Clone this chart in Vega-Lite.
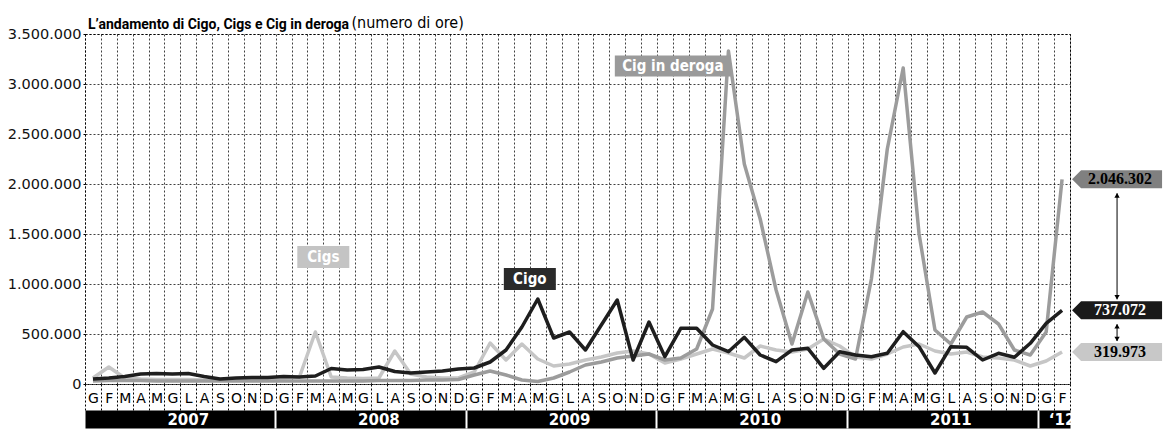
{
  "$schema": "https://vega.github.io/schema/vega-lite/v6.json",
  "width": 985,
  "height": 350,
  "autosize": {"type": "none"},
  "padding": {"left": 85, "top": 34, "right": 94, "bottom": 45},
  "background": "#ffffff",
  "title": {"text": "L’andamento di Cigo, Cigs e Cig in deroga", "anchor": "start", "frame": "group", "font": "Roboto", "fontSize": 14, "fontWeight": "bold", "color": "#000000", "baseline": "alphabetic", "offset": 8, "dx": 3, "dy": 37},
  "datasets": {
    "months": [
      {"m": "2007-01", "cigo": 50000, "cigs": 60000, "deroga": 30000},
      {"m": "2007-02", "cigo": 60000, "cigs": 170000, "deroga": 35000},
      {"m": "2007-03", "cigo": 75000, "cigs": 60000, "deroga": 35000},
      {"m": "2007-04", "cigo": 100000, "cigs": 50000, "deroga": 35000},
      {"m": "2007-05", "cigo": 105000, "cigs": 45000, "deroga": 30000},
      {"m": "2007-06", "cigo": 100000, "cigs": 45000, "deroga": 30000},
      {"m": "2007-07", "cigo": 105000, "cigs": 45000, "deroga": 30000},
      {"m": "2007-08", "cigo": 75000, "cigs": 40000, "deroga": 30000},
      {"m": "2007-09", "cigo": 50000, "cigs": 40000, "deroga": 30000},
      {"m": "2007-10", "cigo": 60000, "cigs": 45000, "deroga": 30000},
      {"m": "2007-11", "cigo": 65000, "cigs": 45000, "deroga": 30000},
      {"m": "2007-12", "cigo": 65000, "cigs": 50000, "deroga": 30000},
      {"m": "2008-01", "cigo": 75000, "cigs": 60000, "deroga": 30000},
      {"m": "2008-02", "cigo": 70000, "cigs": 70000, "deroga": 30000},
      {"m": "2008-03", "cigo": 80000, "cigs": 520000, "deroga": 30000},
      {"m": "2008-04", "cigo": 155000, "cigs": 70000, "deroga": 30000},
      {"m": "2008-05", "cigo": 140000, "cigs": 60000, "deroga": 30000},
      {"m": "2008-06", "cigo": 145000, "cigs": 55000, "deroga": 30000},
      {"m": "2008-07", "cigo": 170000, "cigs": 60000, "deroga": 35000},
      {"m": "2008-08", "cigo": 125000, "cigs": 330000, "deroga": 35000},
      {"m": "2008-09", "cigo": 110000, "cigs": 100000, "deroga": 35000},
      {"m": "2008-10", "cigo": 120000, "cigs": 70000, "deroga": 40000},
      {"m": "2008-11", "cigo": 130000, "cigs": 60000, "deroga": 40000},
      {"m": "2008-12", "cigo": 150000, "cigs": 60000, "deroga": 45000},
      {"m": "2009-01", "cigo": 160000, "cigs": 120000, "deroga": 90000},
      {"m": "2009-02", "cigo": 220000, "cigs": 410000, "deroga": 130000},
      {"m": "2009-03", "cigo": 340000, "cigs": 240000, "deroga": 90000},
      {"m": "2009-04", "cigo": 570000, "cigs": 400000, "deroga": 40000},
      {"m": "2009-05", "cigo": 850000, "cigs": 250000, "deroga": 25000},
      {"m": "2009-06", "cigo": 460000, "cigs": 180000, "deroga": 60000},
      {"m": "2009-07", "cigo": 520000, "cigs": 200000, "deroga": 120000},
      {"m": "2009-08", "cigo": 340000, "cigs": 240000, "deroga": 190000},
      {"m": "2009-09", "cigo": 590000, "cigs": 270000, "deroga": 220000},
      {"m": "2009-10", "cigo": 840000, "cigs": 310000, "deroga": 260000},
      {"m": "2009-11", "cigo": 240000, "cigs": 330000, "deroga": 280000},
      {"m": "2009-12", "cigo": 620000, "cigs": 300000, "deroga": 300000},
      {"m": "2010-01", "cigo": 273000, "cigs": 210000, "deroga": 240000},
      {"m": "2010-02", "cigo": 557000, "cigs": 250000, "deroga": 260000},
      {"m": "2010-03", "cigo": 557000, "cigs": 300000, "deroga": 350000},
      {"m": "2010-04", "cigo": 390000, "cigs": 350000, "deroga": 750000},
      {"m": "2010-05", "cigo": 323000, "cigs": 310000, "deroga": 3330000},
      {"m": "2010-06", "cigo": 467000, "cigs": 260000, "deroga": 2200000},
      {"m": "2010-07", "cigo": 290000, "cigs": 380000, "deroga": 1650000},
      {"m": "2010-08", "cigo": 223000, "cigs": 340000, "deroga": 940000},
      {"m": "2010-09", "cigo": 340000, "cigs": 320000, "deroga": 400000},
      {"m": "2010-10", "cigo": 357000, "cigs": 350000, "deroga": 920000},
      {"m": "2010-11", "cigo": 157000, "cigs": 450000, "deroga": 450000},
      {"m": "2010-12", "cigo": 323000, "cigs": 380000, "deroga": 300000},
      {"m": "2011-01", "cigo": 290000, "cigs": 270000, "deroga": 250000},
      {"m": "2011-02", "cigo": 273000, "cigs": 250000, "deroga": 1050000},
      {"m": "2011-03", "cigo": 307000, "cigs": 300000, "deroga": 2350000},
      {"m": "2011-04", "cigo": 523000, "cigs": 370000, "deroga": 3160000},
      {"m": "2011-05", "cigo": 373000, "cigs": 400000, "deroga": 1500000},
      {"m": "2011-06", "cigo": 110000, "cigs": 330000, "deroga": 540000},
      {"m": "2011-07", "cigo": 373000, "cigs": 300000, "deroga": 400000},
      {"m": "2011-08", "cigo": 367000, "cigs": 320000, "deroga": 670000},
      {"m": "2011-09", "cigo": 240000, "cigs": 270000, "deroga": 720000},
      {"m": "2011-10", "cigo": 307000, "cigs": 260000, "deroga": 600000},
      {"m": "2011-11", "cigo": 267000, "cigs": 240000, "deroga": 340000},
      {"m": "2011-12", "cigo": 407000, "cigs": 180000, "deroga": 290000},
      {"m": "2012-01", "cigo": 607000, "cigs": 230000, "deroga": 520000},
      {"m": "2012-02", "cigo": 737072, "cigs": 319973, "deroga": 2046302}
    ],
    "labels": [
      {"label": "Cigs", "m": "2008-04", "v": 1270000},
      {"label": "Cigo", "m": "2009-05", "v": 1050000},
      {"label": "Cig in deroga", "m": "2010-02", "v": 3180000}
    ],
    "gaps": [
      {"top": 2046302, "bottom": 737072},
      {"top": 737072, "bottom": 319973}
    ]
  },
  "data": {"name": "months"},
  "resolve": {"axis": {"x": "independent"}},
  "layer": [
    {
      "transform": [{"fold": ["cigs", "deroga", "cigo"], "as": ["serie", "value"]}],
      "mark": {"type": "line", "strokeWidth": 3.5, "strokeJoin": "round"},
      "encoding": {
        "x": {
          "field": "m", "type": "ordinal", "bandPosition": 0.5,
          "scale": {"type": "band", "paddingInner": 0, "paddingOuter": 0},
          "axis": {
            "orient": "bottom",
            "labelExpr": "['G','F','M','A','M','G','L','A','S','O','N','D'][toNumber(substring(datum.value,5,7))-1]",
            "labelAngle": 0, "tickBand": "extent", "grid": true, "gridDash": [2, 2], "gridColor": "#000000", "gridOpacity": 0.75, "gridWidth": 1,
            "ticks": true, "tickSize": 26, "tickDash": [2, 2], "tickColor": "#000000", "tickWidth": 1,
            "labelPadding": -19, "labelFontSize": 14, "labelFont": "DejaVu Sans", "labelColor": "#000000",
            "domain": false, "title": null, "labelOverlap": false, "labelFlush": false, "labelBound": false
          }
        },
        "y": {
          "field": "value", "type": "quantitative",
          "scale": {"domain": [0, 3500000], "nice": false, "zero": true},
          "axis": {
            "values": [0, 500000, 1000000, 1500000, 2000000, 2500000, 3000000, 3500000],
            "format": ",d", "grid": true, "gridDash": [2, 2], "gridColor": "#000000", "gridOpacity": 0.75,
            "domain": false, "ticks": true, "tickSize": 3, "tickDash": [2, 2], "tickColor": "#000000",
            "labelFont": "DejaVu Sans", "labelFontSize": 14.5, "labelColor": "#111111", "labelPadding": 1,
            "title": "(numero di ore)", "titleAngle": 0, "titleX": 266, "titleY": -7, "titleAlign": "left", "titleBaseline": "alphabetic",
            "titleFont": "Liberation Sans Narrow, DejaVu Sans Condensed, Roboto", "titleFontSize": 16, "titleFontWeight": "normal", "titleColor": "#000000"
          }
        },
        "color": {"field": "serie", "type": "nominal", "scale": {"domain": ["cigo", "cigs", "deroga"], "range": ["#1e1e1e", "#c6c6c6", "#9c9c9c"]}, "legend": null}
      }
    },
    {
      "data": {"name": "labels"},
      "transform": [{"filter": "datum.label !== 'Cig in deroga'"}],
      "mark": {"type": "point", "shape": "M-1,-0.42H1V0.42H-1Z", "size": 2704, "filled": true, "opacity": 1, "strokeWidth": 0},
      "encoding": {
        "x": {"field": "m", "type": "ordinal", "bandPosition": 0, "axis": null},
        "y": {"field": "v", "type": "quantitative"},
        "fill": {"condition": {"test": "datum.label === 'Cigo'", "value": "#2a2a2a"}, "value": "#c4c4c4"}
      }
    },
    {
      "data": {"name": "labels"},
      "transform": [{"filter": "datum.label === 'Cig in deroga'"}],
      "mark": {"type": "point", "shape": "M-1,-0.18H1V0.18H-1Z", "size": 13456, "filled": true, "opacity": 1, "strokeWidth": 0, "fill": "#9a9a9a"},
      "encoding": {
        "x": {"field": "m", "type": "ordinal", "bandPosition": 0, "axis": null},
        "y": {"field": "v", "type": "quantitative"}
      }
    },
    {
      "transform": [{"fold": ["cigs", "deroga", "cigo"], "as": ["serie", "value"]}, {"filter": "datum.m === '2012-02'"}],
      "mark": {"type": "point", "shape": "M-1,0L-0.8,-0.2H1V0.2H-0.8Z", "size": 8100, "filled": true, "opacity": 1, "strokeWidth": 0, "xOffset": 55},
      "encoding": {
        "x": {
          "field": "m", "type": "ordinal", "bandPosition": 0.5,
          "axis": {
            "orient": "bottom",
            "values": ["2007-07", "2008-07", "2009-07", "2010-07", "2011-07", "2012-02"], "bandPosition": 0,
            "offset": 35, "domain": true, "domainColor": "#000000", "domainWidth": 18, "domainCap": "butt",
            "ticks": false, "tickSize": 0, "grid": false, "labels": false, "title": null
          }
        },
        "y": {"field": "value", "type": "quantitative"},
        "fill": {"condition": [{"test": "datum.serie === 'cigo'", "value": "#1a1a1a"}, {"test": "datum.serie === 'cigs'", "value": "#c8c8c8"}], "value": "#808080"}
      }
    },
    {
      "transform": [{"fold": ["cigs", "deroga", "cigo"], "as": ["serie", "value"]}, {"filter": "datum.m === '2012-02'"}],
      "mark": {"type": "text", "font": "Liberation Serif", "fontSize": 16, "fontWeight": "bold", "align": "center", "baseline": "middle", "xOffset": 58},
      "encoding": {
        "x": {
          "field": "m", "type": "ordinal", "bandPosition": 0.5,
          "axis": {
            "orient": "bottom",
            "values": ["2008-01", "2009-01", "2010-01", "2011-01", "2012-01"], "bandPosition": 0,
            "offset": 26, "domain": false, "labels": false, "ticks": true, "tickSize": 18, "tickColor": "#ffffff", "tickWidth": 2, "grid": false, "title": null
          }
        },
        "y": {"field": "value", "type": "quantitative"},
        "text": {"field": "value", "type": "quantitative", "format": ",d"},
        "color": {"condition": {"test": "datum.serie === 'cigo'", "value": "#ffffff"}, "value": "#000000"}
      }
    },
    {
      "data": {"name": "labels"},
      "mark": {"type": "text", "color": "#ffffff", "font": "Liberation Sans Narrow, DejaVu Sans Condensed, Roboto", "fontSize": 15, "fontWeight": "bold", "align": "center", "baseline": "middle"},
      "encoding": {
        "x": {
          "field": "m", "type": "ordinal", "bandPosition": 0,
          "axis": {
            "orient": "bottom",
            "values": ["2007-07", "2008-07", "2009-07", "2010-07", "2011-07", "2012-02"], "bandPosition": 0,
            "labelExpr": "substring(datum.value,0,4) === '2012' ? '‘12' : substring(datum.value,0,4)",
            "offset": 35, "domain": false, "ticks": false, "tickSize": 0, "grid": false,
            "labelBaseline": "middle", "labelPadding": 0,
            "labelColor": "#ffffff", "labelFont": "DejaVu Sans", "labelFontSize": 15, "labelFontWeight": "bold", "labelAngle": 0,
            "labelFlush": false, "labelOverlap": false, "title": null
          }
        },
        "y": {"field": "v", "type": "quantitative"},
        "text": {"field": "label"}
      }
    },
    {
      "data": {"name": "gaps"},
      "mark": {"type": "rule", "color": "#000000", "strokeWidth": 1, "xOffset": 55, "yOffset": 14, "y2Offset": -11},
      "encoding": {
        "x": {"datum": "2012-02", "type": "ordinal", "bandPosition": 0.5, "axis": null},
        "y": {"field": "top", "type": "quantitative"},
        "y2": {"field": "bottom"}
      }
    },
    {
      "data": {"name": "gaps"},
      "mark": {"type": "point", "shape": "triangle-up", "size": 28, "filled": true, "color": "#000000", "opacity": 1, "xOffset": 55, "yOffset": 16},
      "encoding": {
        "x": {"datum": "2012-02", "type": "ordinal", "bandPosition": 0.5, "axis": null},
        "y": {"field": "top", "type": "quantitative"}
      }
    },
    {
      "data": {"name": "gaps"},
      "mark": {"type": "point", "shape": "triangle-down", "size": 28, "filled": true, "color": "#000000", "opacity": 1, "xOffset": 55, "yOffset": -13},
      "encoding": {
        "x": {"datum": "2012-02", "type": "ordinal", "bandPosition": 0.5, "axis": null},
        "y": {"field": "bottom", "type": "quantitative"}
      }
    }
  ],
  "config": {
    "locale": {"number": {"decimal": ",", "thousands": ".", "grouping": [3], "currency": ["€", ""]}},
    "view": {"stroke": "#000000", "strokeDash": [2, 2], "strokeWidth": 1}
  }
}
